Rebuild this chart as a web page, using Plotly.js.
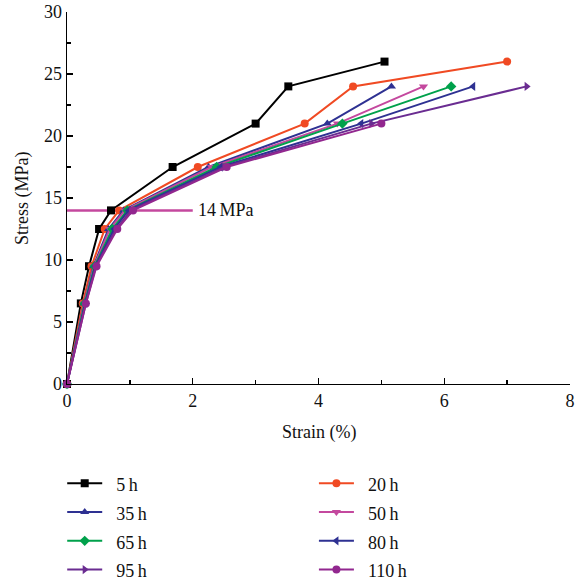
<!DOCTYPE html>
<html>
<head>
<meta charset="utf-8">
<script src="https://cdn.plot.ly/plotly-3.0.1.min.js"></script>
<style>html,body{margin:0;padding:0;background:#fff;}#chart{width:576px;height:580px;}</style>
</head>
<body>
<div id="chart"></div>
<script>
// Series names
const seriesNames = ["5h", "20h", "35h", "50h", "65h", "80h", "95h", "110h"];
// Stress levels (MPa)
const stress9 = [0, 6.5, 9.5, 12.5, 14, 17.5, 21, 24, 26];
const stress8 = [0, 6.5, 9.5, 12.5, 14, 17.5, 21, 24];
const stress7 = [0, 6.5, 9.5, 12.5, 14, 17.5, 21];
// Strain (%) per series
const strain5h   = [0, 0.22, 0.35, 0.51, 0.70, 1.68, 3.00, 3.52, 5.05];
const strain20h  = [0, 0.25, 0.39, 0.60, 0.83, 2.08, 3.78, 4.55, 7.00];
const strain35h  = [0, 0.27, 0.42, 0.66, 0.90, 2.25, 4.14, 5.16];
const strain50h  = [0, 0.27, 0.43, 0.68, 0.92, 2.30, 4.30, 5.67];
const strain65h  = [0, 0.28, 0.44, 0.72, 0.96, 2.38, 4.38, 6.11];
const strain80h  = [0, 0.29, 0.45, 0.75, 0.98, 2.44, 4.68, 6.46];
const strain95h  = [0, 0.30, 0.46, 0.78, 1.02, 2.50, 4.84, 7.31];
const strain110h = [0, 0.30, 0.47, 0.80, 1.05, 2.54, 5.00];
// Reference line (14 MPa)
const refStrain = [0, 2];
const refStress = [14, 14];
const refLabel = "14\u2009MPa";
// Axis titles
const xTitle = "Strain (%)";
const yTitle = "Stress (MPa)";

const strains = [strain5h, strain20h, strain35h, strain50h, strain65h, strain80h, strain95h, strain110h];
const stresses = [stress9, stress9, stress8, stress8, stress8, stress8, stress8, stress7];
const colors = ["#000000", "#f04a23", "#2e3192", "#c4489e", "#00a14b", "#2e3192", "#6a2c91", "#92278f"];
const symbols = ["square", "circle", "triangle-up", "triangle-down", "diamond", "triangle-left", "triangle-right", "circle"];
const legendIds = ["legend", "legend2", "legend", "legend2", "legend", "legend2", "legend", "legend2"];

const FONT = "'Liberation Serif', 'Times New Roman', 'DejaVu Serif', serif";
const traces = [];
traces.push({
  x: refStrain, y: refStress, type: "scatter", mode: "lines",
  line: {color: "#c4489e", width: 2.5}, showlegend: false, hoverinfo: "skip"
});
for (let i = 0; i < seriesNames.length; i++) {
  traces.push({
    x: strains[i], y: stresses[i], type: "scatter", mode: "lines+markers",
    name: '<span style="font-size:18px">\u00a0\u00a0' + seriesNames[i].replace("h", "\u2009h") + '</span>',
    legend: legendIds[i],
    line: {color: colors[i], width: 2},
    marker: {color: colors[i], symbol: symbols[i], size: 8},
    cliponaxis: false
  });
}

const legendCommon = {
  xref: "container", yref: "container", xanchor: "left", yanchor: "top",
  y: 0.2, orientation: "v", bgcolor: "rgba(0,0,0,0)", itemwidth: 35,
  font: {family: FONT, size: 19.8, color: "#111"}
};

const layout = {
  width: 576, height: 580,
  margin: {l: 67, r: 6, t: 12, b: 196, autoexpand: false},
  paper_bgcolor: "#fff", plot_bgcolor: "#fff",
  font: {family: FONT, size: 17, color: "#111"},
  xaxis: {
    range: [0, 8], dtick: 2, tick0: 0, showgrid: false, zeroline: false,
    showline: true, linecolor: "#000", linewidth: 1.3,
    ticks: "inside", ticklen: 6, tickcolor: "#000", tickwidth: 1.3,
    minor: {dtick: 1, ticks: "inside", ticklen: 4, tickcolor: "#000", tickwidth: 1.3, showgrid: false},
    tickfont: {family: FONT, size: 18}
  },
  yaxis: {
    range: [0, 30], dtick: 5, tick0: 0, showgrid: false, zeroline: false,
    showline: true, linecolor: "#000", linewidth: 1.3,
    ticks: "inside", ticklen: 6, tickcolor: "#000", tickwidth: 1.3,
    minor: {dtick: 2.5, ticks: "inside", ticklen: 4, tickcolor: "#000", tickwidth: 1.3, showgrid: false},
    tickfont: {family: FONT, size: 18}
  },
  legend: Object.assign({}, legendCommon, {x: 0.108}),
  legend2: Object.assign({}, legendCommon, {x: 0.545}),
  annotations: [
    {
      x: refStrain[1], y: refStress[1], xref: "x", yref: "y",
      text: refLabel, showarrow: false, xanchor: "left", yanchor: "middle", xshift: 3,
      font: {family: FONT, size: 18, color: "#111"}
    },
    {
      x: 0.5, y: 0, xref: "paper", yref: "paper", yshift: -48,
      text: xTitle, showarrow: false, xanchor: "center", yanchor: "middle",
      font: {family: FONT, size: 18, color: "#111"}
    },
    {
      x: 0, y: 0.5, xref: "paper", yref: "paper", xshift: -45,
      text: yTitle, showarrow: false, xanchor: "center", yanchor: "middle", textangle: -90,
      font: {family: FONT, size: 18, color: "#111"}
    }
  ]
};

Plotly.newPlot("chart", traces, layout, {displayModeBar: false, staticPlot: true});
</script>
</body>
</html>
